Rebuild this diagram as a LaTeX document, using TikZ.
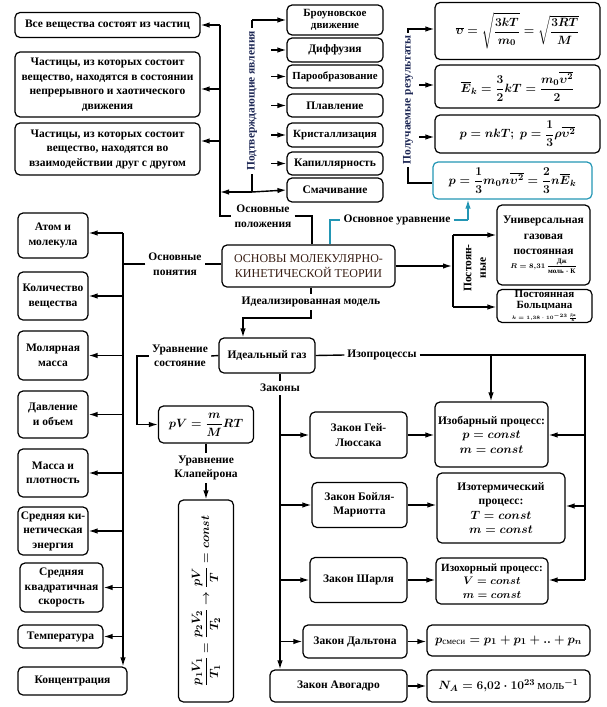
\documentclass[tikz,border=0pt]{standalone}
\usepackage{amsmath}
\usepackage{graphicx}
\usepackage{fontspec}
\setmainfont{Liberation Serif}
\usetikzlibrary{arrows.meta}
\definecolor{navyc}{RGB}{30,40,85}
\definecolor{tealc}{RGB}{35,150,180}
\definecolor{titlec}{RGB}{55,28,18}
\begin{document}
\begin{tikzpicture}[x=1pt,y=-1pt,
  txt/.style={font=\fontsize{11.5}{14.5}\selectfont\bfseries\boldmath},
  box/.style={txt, draw, rounded corners=5pt, line width=1.2pt, align=center, inner sep=1pt},
  lbl/.style={txt, inner sep=3pt, align=center},
  con/.style={line width=1.4pt},
  arr/.style={line width=1.4pt, -{Latex[length=9pt,width=5.5pt]}},
  fml/.style={font=\fontsize{13}{15}\selectfont\boldmath},
]
\useasboundingbox (0,0) rectangle (607,707);

% ---------- top left
\node[box, minimum width=185pt, minimum height=25pt] (b1) at (107.5,25) {Все вещества состоят из частиц};
\node[box, minimum width=185pt, minimum height=65pt] (b2) at (107.5,84.5) {Частицы, из которых состоит\\вещество, находятся в состоянии\\непрерывного и хаотического\\движения};
\node[box, minimum width=185pt, minimum height=52pt] (b3) at (107.5,149) {Частицы, из которых состоит\\вещество, находятся во\\взаимодействии друг с другом};

% ---------- phenomena column
\node[box, minimum width=96pt, minimum height=30pt, font=\fontsize{11}{12}\selectfont\bfseries] (br) at (335,20) {Броуновское\\движение};
\node[box, minimum width=96pt, minimum height=24pt] (di) at (335,50) {Диффузия};
\node[box, minimum width=96pt, minimum height=23pt, font=\fontsize{10.8}{12}\selectfont\bfseries] (pa) at (335,76.5) {Парообразование};
\node[box, minimum width=96pt, minimum height=23pt] (pl) at (335,105.5) {Плавление};
\node[box, minimum width=96pt, minimum height=24pt, font=\fontsize{11}{12}\selectfont\bfseries] (kr) at (335,135) {Кристаллизация};
\node[box, minimum width=96pt, minimum height=23pt] (ka) at (335,163.5) {Капиллярность};
\node[box, minimum width=96pt, minimum height=24pt] (sm) at (335,190) {Смачивание};
\node[lbl, rotate=90, text=navyc, font=\fontsize{11.5}{14}\selectfont\bfseries] (pj) at (252,101) {Подтверждающие явления};

% ---------- results column
\node[box, minimum width=165pt, minimum height=57pt, fml] (fv) at (517.5,31) {$\overline{\upsilon}=\sqrt{\dfrac{3kT}{m_0}}=\sqrt{\dfrac{3RT}{M}}$};
\node[box, minimum width=165pt, minimum height=43pt, fml] (fe) at (517.5,86.5) {$\overline{E}_k=\dfrac{3}{2}kT=\dfrac{m_0\overline{\upsilon^2}}{2}$};
\node[box, minimum width=165pt, minimum height=38pt, fml] (fp) at (517.5,134) {$p=nkT;\ p=\dfrac{1}{3}\rho\overline{\upsilon^2}$};
\node[box, draw=tealc, minimum width=159pt, minimum height=37pt, fml] (fb) at (512.5,180.5) {$p=\dfrac{1}{3}m_0n\overline{\upsilon^2}=\dfrac{2}{3}n\overline{E}_k$};
\node[lbl, rotate=90, text=navyc, font=\fontsize{11.5}{14}\selectfont\bfseries] (pr) at (408,100) {Получаемые результаты};

% ---------- main
\node[box, minimum width=173pt, minimum height=42pt, font=\fontsize{12}{15}\selectfont, text=titlec] (main) at (308.5,266) {ОСНОВЫ МОЛЕКУЛЯРНО-\\КИНЕТИЧЕСКОЙ ТЕОРИИ};
\node[lbl] (op) at (263,216) {Основные\\положения};
\node[lbl] (ou) at (397,220) {Основное уравнение};
\node[lbl] (on) at (175,264) {Основные\\понятия};
\node[lbl] (im) at (311,302) {Идеализированная модель};

% ---------- constants
\node[box, minimum width=93pt, minimum height=80pt, font=\fontsize{11.5}{15.5}\selectfont\bfseries\boldmath] (un) at (543.5,245) {Универсальная\\газовая\\постоянная\\[-2pt]{\fontsize{7}{8}\selectfont $R=8{,}31\,\dfrac{\text{Дж}}{\text{моль}\cdot\text{К}}$}};
\node[box, minimum width=95pt, minimum height=33pt, inner sep=0pt, font=\fontsize{11}{11.5}\selectfont\bfseries\boldmath] (bo) at (544.5,306) {Постоянная\\Больцмана\\[-1pt]{\fontsize{5.5}{6}\selectfont $k=1{,}38\cdot10^{-23}\,\frac{\text{Дж}}{\text{К}}$}};
\node[lbl, rotate=90, inner sep=1pt] (pst) at (475,268) {Постоян-\\ные};

% ---------- left column
\node[box, minimum width=70pt, minimum height=45pt] (at) at (53,235.5) {Атом и\\молекула};
\node[box, minimum width=70pt, minimum height=48pt] (ko) at (53,296) {Количество\\вещества};
\node[box, minimum width=70pt, minimum height=49pt] (mo) at (53,355.5) {Молярная\\масса};
\node[box, minimum width=70pt, minimum height=47pt] (da) at (53,414.5) {Давление\\и объем};
\node[box, minimum width=70pt, minimum height=48pt] (ma) at (53,473) {Масса и\\плотность};
\node[box, minimum width=70pt, minimum height=48pt] (sk) at (53,531) {Средняя ки-\\нетическая\\энергия};
\node[box, minimum width=83pt, minimum height=49pt] (sq) at (61.5,587.5) {Средняя\\квадратичная\\скорость};
\node[box, minimum width=85pt, minimum height=23pt] (te) at (60.5,636.5) {Температура};
\node[box, minimum width=109pt, minimum height=28pt] (kc) at (72.5,681) {Концентрация};

% ---------- ideal gas
\node[box, minimum width=96pt, minimum height=35pt] (ig) at (267,355.5) {Идеальный газ};
\node[lbl] (us) at (180,356) {Уравнение\\состояние};
\node[lbl] (iz) at (382,355) {Изопроцессы};
\node[lbl] (zk) at (280,388) {Законы};
\node[box, minimum width=95pt, minimum height=37pt, fml] (pv) at (206,424.5) {$pV=\dfrac{m}{M}RT$};
\node[lbl] (kl) at (206,468) {Уравнение\\Клапейрона};
\node[box, minimum width=55pt, minimum height=202pt, fml] (tb) at (206,601) {\rotatebox{90}{$\dfrac{p_1V_1}{T_1}=\dfrac{p_2V_2}{T_2}\rightarrow\dfrac{pV}{T}=const$}};

% ---------- laws
\node[box, minimum width=97pt, minimum height=46pt] (gl) at (358.5,435) {Закон Гей-\\Люссака};
\node[box, minimum width=95pt, minimum height=45pt] (bm) at (359.5,505) {Закон Бойля-\\Мариотта};
\node[box, minimum width=97pt, minimum height=45pt] (sh) at (358.5,580) {Закон Шарля};
\node[box, minimum width=104pt, minimum height=33pt] (dl) at (355,641.5) {Закон Дальтона};
\node[box, minimum width=137pt, minimum height=32pt] (av) at (338.5,686) {Закон Авогадро};

% ---------- processes
\node[box, minimum width=113pt, minimum height=65pt] (ib) at (491.5,434.5) {Изобарный процесс:\\$p=const$\\$m=const$};
\node[box, minimum width=128pt, minimum height=70pt, font=\fontsize{11.5}{14.5}\selectfont\bfseries\boldmath] (it) at (501,508) {Изотермический\\процесс:\\$T=const$\\$m=const$};
\node[box, minimum width=112pt, minimum height=46pt, font=\fontsize{11}{13.5}\selectfont\bfseries\boldmath] (ih) at (492,581) {Изохорный процесс:\\$V=const$\\$m=const$};
\node[box, minimum width=163pt, minimum height=31pt, fml] (pm) at (508.5,640.5) {$p_{\text{смеси}}=p_1+p_1+..+p_n$};
\node[box, minimum width=163pt, minimum height=32pt, fml] (na) at (508.5,686) {$N_A=6{,}02\cdot10^{23}$\,моль$^{-1}$};

% ================= connectors
% top-left bracket
\coordinate (va) at (220,25);
\coordinate (a2) at (220,89);
\coordinate (a3) at (220,141);
\coordinate (vb) at (220,216);
\coordinate (v7) at (220,192);
\draw[con] (va) -- (vb) -- (op.west);
\draw[arr] (va) -- (va -| b1.east);
\draw[arr] (a2) -- (a2 -| b2.east);
\draw[arr] (a3) -- (a3 -| b3.east);
\coordinate (p1) at (312,216);
\draw[con] (op.east) -- (p1) -- (main.north -| p1);

% phenomena
\coordinate (j1) at (252,20);
\coordinate (j7) at (252,192);
\draw[con] (pj.east) -- (j1);
\draw[arr] (j1) -- (j1 -| br.west);
\draw[con] (pj.west) -- (j7);
\draw[arr] (j7) -- (sm.west);
\draw[arr] (j7) -- (v7);
\coordinate (t2) at (271,50);
\coordinate (t3) at (271,76.5);
\coordinate (t4) at (271,105.5);
\coordinate (t5) at (271,135);
\coordinate (t6) at (271,163.5);
\draw[arr] (t2) -- (di.west);
\draw[arr] (t3) -- (pa.west);
\draw[arr] (t4) -- (pl.west);
\draw[arr] (t5) -- (kr.west);
\draw[arr] (t6) -- (ka.west);

% results
\coordinate (r1) at (408,29);
\coordinate (r4) at (408,183);
\coordinate (r2) at (419,85);
\coordinate (r3) at (419,137);
\draw[arr] (pr.east) -- (r1) -- (r1 -| fv.west);
\draw[con] (pr.west) -- (r4) -- (r4 -| fb.west);
\draw[arr] (r2) -- (r2 -| fe.west);
\draw[arr] (r3) -- (r3 -| fp.west);

% main equation (teal)
\coordinate (o1) at (330,220);
\coordinate (o2) at (468,220);
\draw[con, tealc] (main.north -| o1) -- (o1) -- (ou.west);
\draw[con, tealc] (ou.east) -- (o2);
\draw[arr, tealc] (o2) -- (o2 |- fb.south);

% constants
\coordinate (k0) at (452,266);
\coordinate (k1) at (453,235);
\coordinate (k2) at (453,307);
\draw[arr] (main.east) -- (k0);
\draw[con] (k1) -- (k2);
\draw[arr] (k1) -- (k1 -| un.west);
\draw[arr] (k2) -- (k2 -| bo.west);

% basic concepts
\coordinate (ctop) at (123,233);
\coordinate (cmid) at (123,264);
\draw[con] (main.west |- on) -- (on.east);
\draw[con] (on.west) -- (cmid);
\draw[arr] (ctop) -- (ctop -| at.east);
\draw[arr] (ctop) -- (ctop |- kc.north);
\draw[arr] (ko.east -| ctop) -- (ko.east);
\draw[arr] (mo.east -| ctop) -- (mo.east);
\draw[arr] (da.east -| ctop) -- (da.east);
\draw[arr] (ma.east -| ctop) -- (ma.east);
\draw[arr] (sk.east -| ctop) -- (sk.east);
\draw[arr] (sq.east -| ctop) -- (sq.east);
\draw[arr] (te.east -| ctop) -- (te.east);

% idealised model
\coordinate (m1) at (311,318);
\coordinate (m2) at (243,318);
\draw[con] (main.south -| im) -- (im.north);
\draw[arr] (im.south) -- (m1) -- (m2) -- (m2 |- ig.north);

% state equation
\coordinate (u0) at (137,356);
\draw[con] (ig.west) -- (us.east);
\draw[arr] (us.west) -- (u0) |- (pv.west);
\draw[con] (pv.south) -- (kl.north);
\draw[arr] (kl.south) -- (tb.north);

% isoprocesses
\coordinate (q0) at (585,355);
\coordinate (q1) at (585,435);
\coordinate (q2) at (585,506);
\coordinate (q3) at (585,580);
\coordinate (q4) at (491,355);
\draw[con] (ig.east) -- (iz.west);
\draw[con] (iz.east) -- (q0) -- (q3);
\draw[arr] (q1) -- (q1 -| ib.east);
\draw[arr] (q2) -- (q2 -| it.east);
\draw[arr] (q3) -- (q3 -| ih.east);
\draw[arr] (q4) -- (q4 |- ib.north);

% laws
\coordinate (w1) at (280,435);
\coordinate (w2) at (280,505);
\coordinate (w3) at (280,580);
\coordinate (w4) at (280,641.5);
\draw[con] (ig.south -| zk) -- (zk.north);
\draw[arr] (zk.south) -- (zk.south |- av.north);
\draw[arr] (w1) -- (gl.west);
\draw[arr] (w2) -- (bm.west);
\draw[arr] (w3) -- (sh.west);
\draw[arr] (w4) -- (dl.west);
\draw[arr] (gl.east) -- (gl.east -| ib.west);
\draw[arr] (bm.east) -- (bm.east -| it.west);
\draw[arr] (sh.east) -- (sh.east -| ih.west);
\draw[arr] (dl.east) -- (dl.east -| pm.west);
\draw[arr] (av.east) -- (av.east -| na.west);
\end{tikzpicture}
\end{document}
